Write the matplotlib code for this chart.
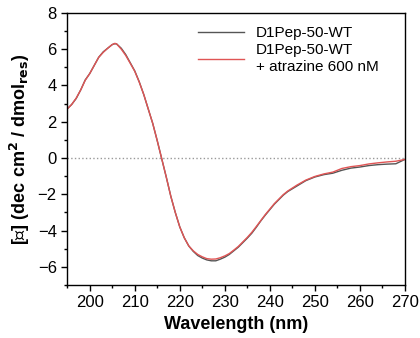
import matplotlib
matplotlib.use("Agg")
import matplotlib.pyplot as plt
from matplotlib.ticker import MultipleLocator

plt.rcParams['font.family'] = ['Liberation Sans', 'DejaVu Sans']

# CD spectra
wavelength = [195, 196, 197, 198, 199, 200, 201, 202, 203, 204, 205, 205.6, 206, 207,
              208, 209, 210, 211, 212, 213, 214, 215, 216, 217, 218, 219, 220, 221,
              222, 223, 224, 225, 226, 227, 228, 229, 230, 231, 232, 233, 234, 235,
              236, 237, 238, 239, 240, 241, 242, 243, 244, 245, 246, 247, 248, 249,
              250, 252, 254, 256, 258, 260, 262, 264, 266, 268, 270]

wt = [2.70, 2.95, 3.28, 3.75, 4.30, 4.65, 5.10, 5.55, 5.85, 6.05, 6.25, 6.30, 6.28, 6.05,
      5.70, 5.25, 4.80, 4.20, 3.50, 2.70, 1.90, 0.95, -0.05, -1.05, -2.10, -3.00, -3.80, -4.40,
      -4.85, -5.15, -5.38, -5.52, -5.62, -5.67, -5.67, -5.58, -5.47, -5.32, -5.12, -4.92, -4.67, -4.42,
      -4.15, -3.82, -3.47, -3.15, -2.85, -2.55, -2.30, -2.05, -1.85, -1.70, -1.55, -1.40, -1.25, -1.15,
      -1.05, -0.92, -0.84, -0.68, -0.56, -0.50, -0.42, -0.37, -0.34, -0.32, -0.08]

wt_atrazine = [2.70, 2.95, 3.30, 3.75, 4.28, 4.65, 5.10, 5.55, 5.82, 6.05, 6.25, 6.32, 6.28, 6.00,
               5.65, 5.22, 4.78, 4.18, 3.50, 2.70, 1.90, 0.95, -0.05, -1.05, -2.10, -3.00, -3.80, -4.40,
               -4.85, -5.12, -5.32, -5.45, -5.55, -5.58, -5.57, -5.50, -5.40, -5.27, -5.08, -4.88, -4.63, -4.38,
               -4.10, -3.78, -3.45, -3.12, -2.82, -2.52, -2.27, -2.02, -1.82, -1.66, -1.50, -1.36, -1.22, -1.12,
               -1.02, -0.88, -0.78, -0.58, -0.48, -0.42, -0.33, -0.27, -0.22, -0.18, -0.08]

fig = plt.figure(figsize=(4.2, 3.38), dpi=100)
ax = fig.add_axes([0.160, 0.157, 0.804, 0.805])

ax.axhline(0, color='#999999', linestyle=':', linewidth=1.0, zorder=1)
ax.plot(wavelength, wt, color='#555555', linewidth=1.0, label='D1Pep-50-WT')
ax.plot(wavelength, wt_atrazine, color='#e05555', linewidth=1.0,
        label='D1Pep-50-WT\n+ atrazine 600 nM')

ax.set_xlim(195, 270)
ax.set_ylim(-7, 8)
ax.xaxis.set_major_locator(MultipleLocator(10))
ax.xaxis.set_minor_locator(MultipleLocator(5))
ax.yaxis.set_major_locator(MultipleLocator(2))
ax.yaxis.set_minor_locator(MultipleLocator(1))
ax.tick_params(which='major', direction='out', length=4, width=1, labelsize=12)
ax.tick_params(which='minor', direction='out', length=2.5, width=1)
for s in ax.spines.values():
    s.set_linewidth(1.0)

ax.set_xlabel('Wavelength (nm)', fontsize=13, fontweight='bold')
ax.set_ylabel(r'[⊠] (dec cm$^\mathbf{2}$ / dmol$_\mathbf{res}$)', fontsize=13, fontweight='bold')

ax.legend(loc='upper right', frameon=False, fontsize=11, handlelength=3,
          borderaxespad=0.3, labelspacing=0.2, bbox_to_anchor=(0.955, 0.99))

fig.savefig('out.png', dpi=100)
